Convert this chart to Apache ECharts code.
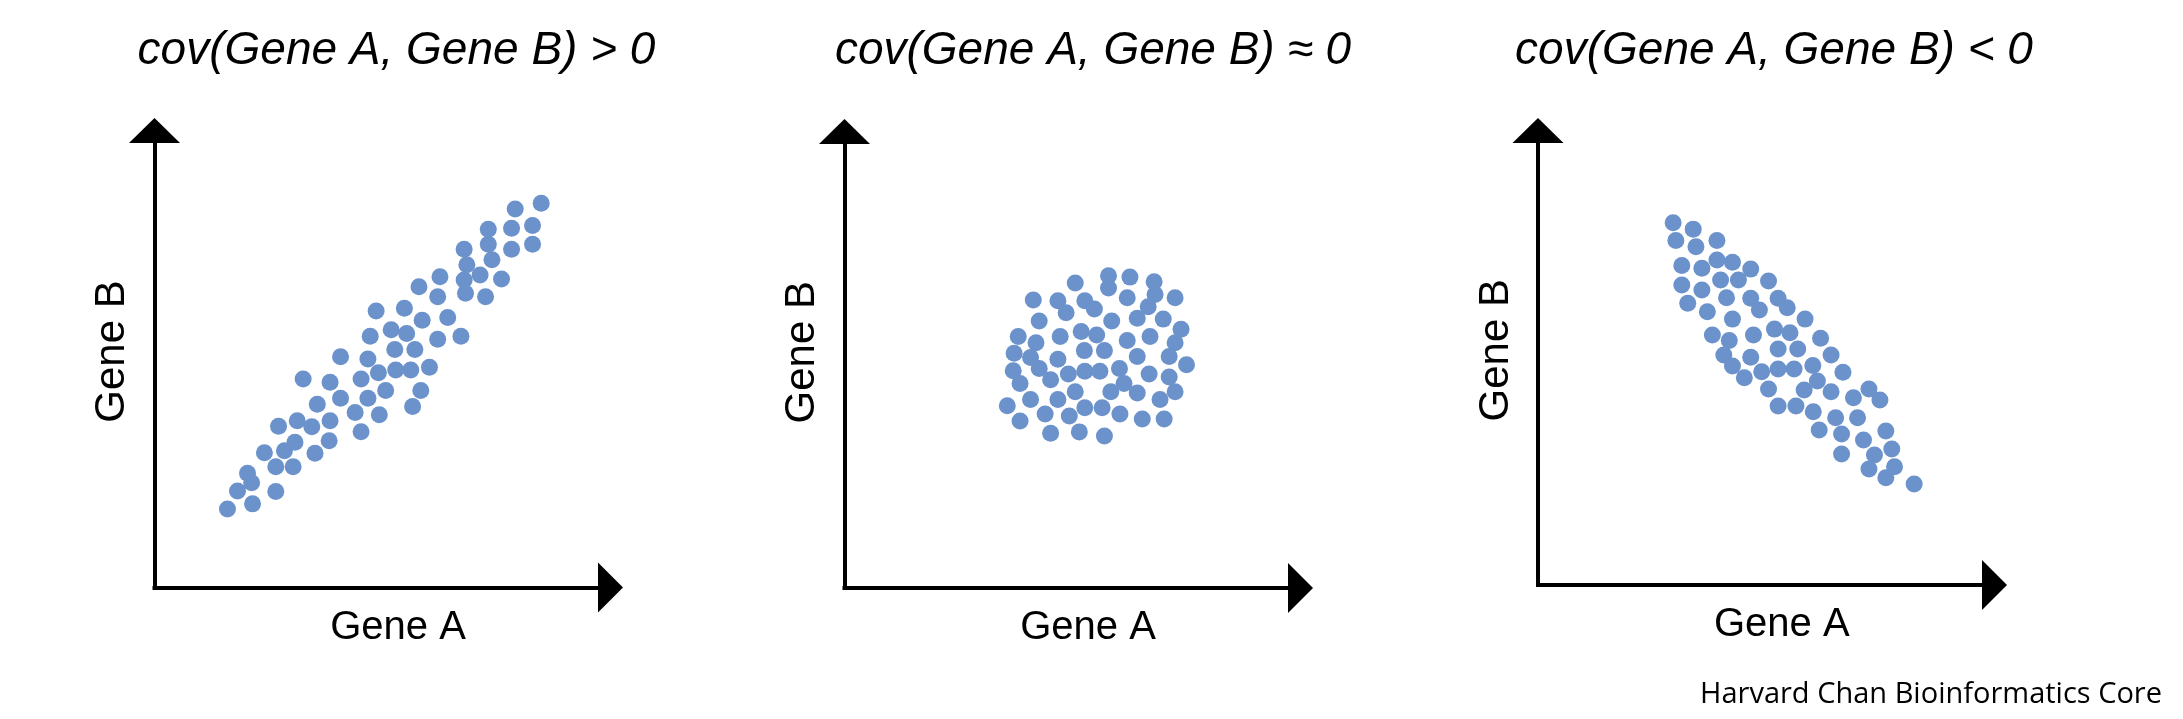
<!DOCTYPE html>
<html>
<head>
<meta charset="utf-8">
<script src="https://cdn.jsdelivr.net/npm/echarts@6/dist/echarts.min.js"></script>
<style>
html,body{margin:0;padding:0;background:#fff;}
#chart{width:2183px;height:719px;}
</style>
</head>
<body>
<div id="chart"></div>
<script>
// ---- data (axis units 0-100) ----
const panelTitles = ['cov(Gene A, Gene B) > 0', 'cov(Gene A, Gene B) \u2248 0', 'cov(Gene A, Gene B) < 0'];
const xAxisName = 'Gene A';
const yAxisName = 'Gene B';
const footerText = 'Harvard Chan Bioinformatics Core';

const geneA_pos = [84.8,79.1,73.2,78.3,82.9,73.2,78.3,82.9,67.9,68.5,74.0,71.4,76.1,62.6,67.9,68.2,72.6,58.0,62.1,48.6,54.8,58.7,64.3,51.9,55.3,47.3,62.1,67.2,52.7,57.1,40.8,46.8,49.1,52.9,56.2,60.3,32.6,38.5,45.3,50.7,58.4,40.8,46.8,35.7,44.0,49.3,56.6,27.2,31.3,34.5,38.5,45.3,30.8,28.5,24.1,38.3,35.2,26.6,30.4,20.4,21.3,18.2,26.6,21.5,16.0];
const geneB_pos = [84.1,82.8,78.4,78.6,79.2,75.1,74.0,75.1,74.0,70.6,71.7,68.4,67.5,68.0,67.3,64.4,63.6,65.8,63.6,60.5,61.1,58.5,59.1,56.4,55.6,55.0,54.3,55.0,52.1,52.1,50.5,50.0,47.0,47.6,47.6,48.2,45.6,44.9,45.6,43.1,43.1,41.4,41.4,40.1,38.3,37.8,39.6,35.3,36.5,35.2,36.5,34.1,31.8,29.9,29.5,32.1,29.4,26.4,26.4,25.0,22.9,21.1,21.0,18.3,17.2];

const geneA_zero = [50.6,57.9,57.9,62.6,67.9,68.1,72.5,41.4,46.8,52.7,48.6,54.8,62.0,66.6,42.7,58.6,64.2,69.9,73.8,38.1,47.3,51.9,55.3,62.0,67.0,42.0,72.5,37.2,40.8,46.8,52.6,57.0,64.2,71.2,75.0,37.0,42.7,49.1,52.7,56.0,60.3,66.8,71.2,38.5,45.2,61.3,50.6,58.4,64.2,72.5,40.8,46.8,69.2,35.7,52.7,56.5,44.0,49.3,60.4,65.3,70.1,38.5,45.2,51.5,57.0];
const geneB_zero = [66.8,68.4,65.7,68.1,67.1,64.3,63.6,63.1,62.9,62.9,60.3,61.1,63.6,61.6,58.5,58.5,59.1,58.9,56.7,55.1,55.1,56.2,55.4,54.2,55.1,53.7,53.7,51.4,50.5,50.1,52.0,52.0,50.7,50.7,48.9,47.6,48.1,46.9,47.5,47.5,48.1,46.9,46.2,44.8,45.6,44.8,43.0,43.0,42.7,43.0,41.3,41.3,41.3,39.9,39.5,39.5,38.1,37.7,38.1,37.0,37.0,36.6,33.9,34.2,33.3];

const geneA_neg = [29.6,34.0,30.2,34.6,39.2,31.5,35.9,39.2,42.6,46.6,31.5,35.9,40.0,43.9,50.5,32.8,37.1,41.3,46.6,48.5,52.6,54.6,58.5,42.6,38.2,41.9,47.2,51.8,55.2,61.9,40.7,46.6,52.6,56.9,64.2,42.6,45.2,49.0,52.6,56.1,60.2,61.2,66.8,50.5,58.3,64.2,69.1,72.5,74.9,52.6,56.5,60.3,65.2,70.0,61.6,66.5,71.3,76.2,66.5,73.7,77.5,72.5,78.1,76.2,82.4];
const geneB_neg = [79.7,78.3,75.8,74.4,75.8,70.3,69.7,71.5,71.0,69.5,66.0,64.9,67.1,67.1,66.9,62.0,60.1,63.2,63.1,60.5,63.1,61.0,58.5,58.5,55.0,53.8,55.0,56.3,55.5,54.3,50.6,50.1,51.9,51.9,50.6,48.2,45.6,46.9,47.5,47.5,48.3,44.9,46.8,43.1,42.9,42.5,41.2,43.1,40.7,39.4,39.4,38.1,36.8,36.8,34.1,33.2,31.9,33.9,28.8,28.6,29.9,25.5,26.0,23.6,22.2];

// ---- layout ----
const grids = [
  {left: 154.5, top: 130.5, width: 456, height: 457},
  {left: 844.5, top: 131.5, width: 456, height: 456.5},
  {left: 1538, top: 130.5, width: 456.5, height: 454.5}
];
const titleCenters = [396.5, 1093, 1774];
const dotColor = '#6c92cb';

const panels = [[geneA_pos, geneB_pos], [geneA_zero, geneB_zero], [geneA_neg, geneB_neg]];

function axisLineCfg(arrowSize) {
  return {
    show: true, onZero: false,
    symbol: ['none', 'triangle'], symbolSize: arrowSize,
    lineStyle: {color: '#000', width: 4, cap: 'square'}
  };
}

const option = {
  backgroundColor: '#fff',
  animation: false,
  title: panelTitles.map((t, i) => ({
    text: t, left: titleCenters[i], top: 51.5, padding: 0,
    textAlign: 'center', textVerticalAlign: 'middle',
    textStyle: {fontFamily: 'Liberation Sans, Arial, sans-serif', fontStyle: 'italic', fontWeight: 'normal', fontSize: 46, color: '#000'}
  })).concat([{
    text: footerText, left: 2162, top: 695, padding: 0,
    textAlign: 'right', textVerticalAlign: 'middle',
    textStyle: {fontFamily: 'Open Sans, Noto Sans, sans-serif', fontWeight: 'normal', fontSize: 29, color: '#000'}
  }]),
  grid: grids.map(g => Object.assign({containLabel: false}, g)),
  xAxis: grids.map((g, i) => ({
    gridIndex: i, type: 'value', min: 0, max: 100,
    axisLine: axisLineCfg([50, 25]),
    axisTick: {show: false}, axisLabel: {show: false}, splitLine: {show: false},
    name: xAxisName, nameLocation: 'middle', nameGap: 20,
    nameTextStyle: {fontFamily: 'Liberation Sans, Arial, sans-serif', fontSize: 40, color: '#000', padding: [0, 0, 0, 31]}
  })),
  yAxis: grids.map((g, i) => ({
    gridIndex: i, type: 'value', min: 0, max: 100,
    axisLine: axisLineCfg([51, 25]),
    axisTick: {show: false}, axisLabel: {show: false}, splitLine: {show: false},
    name: yAxisName, nameLocation: 'middle', nameGap: 21,
    nameTextStyle: {fontFamily: 'Liberation Sans, Arial, sans-serif', fontSize: 42, color: '#000', padding: [0, 0, 0, 15]}
  })),
  series: panels.map((p, i) => ({
    type: 'scatter', xAxisIndex: i, yAxisIndex: i,
    symbol: 'circle', symbolSize: 17,
    itemStyle: {color: dotColor, opacity: 1},
    data: p[0].map((x, k) => [x, p[1][k]])
  }))
};

const chart = echarts.init(document.getElementById('chart'), null, {renderer: 'canvas'});
chart.setOption(option);
</script>
</body>
</html>
